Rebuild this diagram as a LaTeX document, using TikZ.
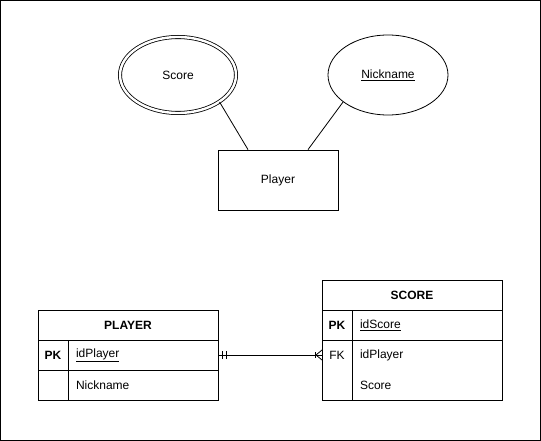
\documentclass[tikz,border=0pt]{standalone}
\usepackage{fontspec}
\setmainfont{Liberation Sans}
\usetikzlibrary{positioning,shapes.geometric}

\begin{document}
\begin{tikzpicture}[x=1pt, y=-1pt, node distance=0pt, line width=0.8pt, font=\fontsize{12}{14}\selectfont]
% Define styles
\tikzstyle{attribute} = [ellipse, draw, minimum width=120pt, minimum height=80pt, inner sep=0pt]
\tikzstyle{multiattr} = [ellipse, draw, double, double distance=2.4pt, minimum width=116pt, minimum height=76pt, inner sep=0pt]
\tikzstyle{entity} = [rectangle, draw, minimum width=120pt, minimum height=60pt]
\tikzstyle{tablehead} = [rectangle, draw, outer sep=0pt, minimum width=180pt, minimum height=30pt, font=\fontsize{12}{14}\selectfont\bfseries]
\tikzstyle{keycell} = [rectangle, draw, outer sep=0pt, minimum width=30pt, minimum height=30pt, inner sep=0pt, font=\fontsize{12}{14}\selectfont\bfseries]
\tikzstyle{fieldcell} = [rectangle, draw, outer sep=0pt, text width=134pt, inner xsep=8pt, inner ysep=0pt, minimum height=30pt, align=left]

% Frame
\useasboundingbox (0,0) rectangle (541,441);
\draw (0.5,0.5) rectangle (540.5,440.5);

% ER part
\node [entity] (player) at (278,180) {Player};
\node [multiattr] (score) at (178,75) {Score};
\node [attribute] (nickname) at (388,75) {\underline{Nickname}};

\draw (score.-33) -- ([xshift=-30pt]player.north);
\draw (nickname.211) -- ([xshift=30pt]player.north);

% Table PLAYER
\node [tablehead] (playerhead) at (128,325) {PLAYER};
\node [keycell, below right=0pt of playerhead.south west] (playerpk) {PK};
\node [fieldcell, right=0pt of playerpk] (playeridplayer) {\underline{idPlayer}};
\node [keycell, below=0pt of playerpk] (playerblank) {};
\node [fieldcell, right=0pt of playerblank] (playernickname) {Nickname};

% Table SCORE
\node [tablehead] (scorehead) at (412,295) {SCORE};
\node [keycell, below right=0pt of scorehead.south west] (scorepk) {PK};
\node [fieldcell, right=0pt of scorepk] (scoreidscore) {\underline{idScore}};
\node [keycell, draw=none, font=\fontsize{12}{14}\selectfont, below=0pt of scorepk] (scorefk) {FK};
\node [fieldcell, draw=none, right=0pt of scorefk] (scoreidplayer) {idPlayer};
\node [keycell, draw=none, below=0pt of scorefk] (scoreblank) {};
\node [fieldcell, draw=none, right=0pt of scoreblank] (scorescore) {Score};
\draw (scorefk.north west) rectangle (scorescore.south east);
\draw (scorefk.north east) -- (scoreblank.south east);

% Relationship
\draw (playeridplayer.east) -- (scorefk.west);
\draw ([xshift=4pt]playeridplayer.east) ++(0,-4) -- ++(0,8);
\draw ([xshift=8pt]playeridplayer.east) ++(0,-4) -- ++(0,8);
\draw ([xshift=-7pt]scorefk.west) ++(0,-3) -- ++(0,6);
\draw ([yshift=-5pt]scorefk.west) -- ([xshift=-6pt]scorefk.west) -- ([yshift=5pt]scorefk.west);

\end{tikzpicture}
\end{document}
